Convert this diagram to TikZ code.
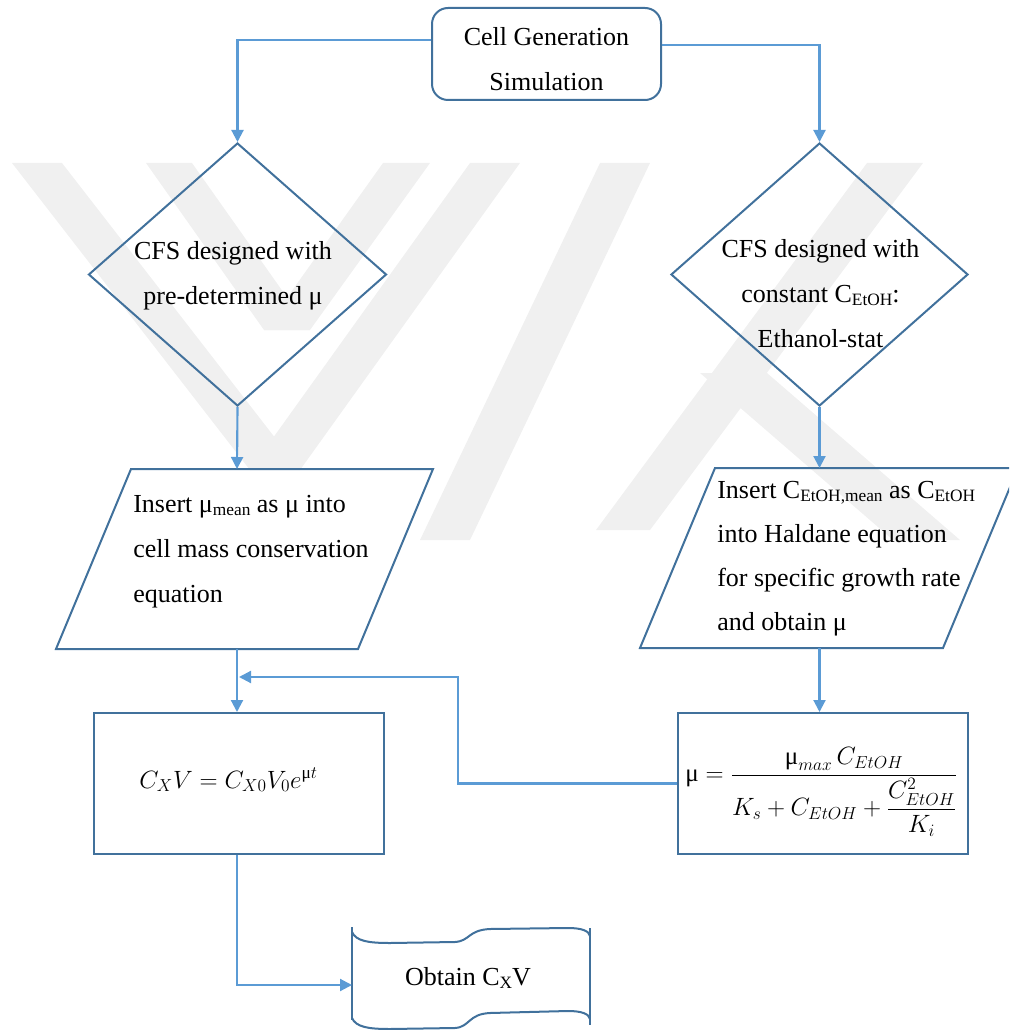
\documentclass[tikz,border=0pt]{standalone}
\usepackage{fontspec}
\setmainfont{Liberation Serif}
\usepackage{amsmath}
\usetikzlibrary{arrows.meta,shapes.geometric}
\definecolor{conncol}{HTML}{5B9BD5}
\definecolor{edgecol}{HTML}{41719C}
\definecolor{wmcol}{HTML}{F0F0F0}
\newcommand\lsub[1]{\raisebox{-0.25ex}{\fontsize{13}{13}\selectfont #1}}
\newcommand\umu{\text{μ}}
\begin{document}
\begin{tikzpicture}[x=0.75pt,y=-0.75pt,
  shapeline/.style={draw=edgecol,line width=1.5pt},
  conn/.style={draw=conncol,line width=1.6pt,-{Triangle[length=9pt,width=9pt]}},
  txt/.style={font=\fontsize{19.5}{33.75}\selectfont, inner sep=0pt},
  mathtxt/.style={font=\fontsize{20.74}{22}\selectfont, inner sep=0pt, scale=0.905},
  wm/.style={fill=wmcol,draw=none}]
\useasboundingbox (0,0) rectangle (1009,1030);
\clip (0,0) rectangle (1009,1030);
% watermark (faint background logo)
\fill[wm] (12,163) -- (62,163) -- (300,470) -- (250,470) -- cycle;
\fill[wm] (146,163) -- (192,163) -- (310,330) -- (264,330) -- cycle;
\fill[wm] (470,163) -- (520,163) -- (300,470) -- (250,470) -- cycle;
\fill[wm] (383,163) -- (430,163) -- (310,330) -- (264,330) -- cycle;
\fill[wm] (600,163) -- (650,163) -- (470,540) -- (420,540) -- cycle;
\fill[wm] (867,163) -- (923,163) -- (650,530) -- (596,530) -- cycle;
\fill[wm] (700,373) -- (767,373) -- (960,540) -- (893,540) -- cycle;
% shapes
\node[shapeline, rounded corners=12pt, minimum width=171.75pt, minimum height=69pt, inner sep=0pt] (start) at (546.5,54) {};
\node[txt, align=center] (starttxt) at (546.5,59) {Cell Generation\\Simulation};
\node[shapeline, diamond, minimum width=223.5pt, minimum height=197.25pt, inner sep=0pt] (d1) at (237.5,274.5) {};
\node[shapeline, diamond, minimum width=222.75pt, minimum height=197.25pt, inner sep=0pt] (d2) at (819.5,274.5) {};
\node[txt, align=center] (t1) at (233,275.5) {CFS designed with\\pre-determined μ};
\node[txt, align=center] (t2) at (820.5,293.7) {CFS designed with\\constant C\lsub{EtOH}:\\Ethanol-stat};
\draw[shapeline] (56,649) -- (131,469) -- (433,469) -- (358,649) -- cycle;
\draw[shapeline] (640,648) -- (715,468) -- (1018,468) -- (943,648) -- cycle;
\coordinate (p1n) at (237,469);
\coordinate (p1s) at (237,649);
\coordinate (p2n) at (819.5,468);
\coordinate (p2s) at (819.5,648);
\node[txt, align=left, anchor=west] (t3) at (133,552) {Insert μ\lsub{mean} as μ into\\cell mass conservation\\equation};
\node[txt, font=\fontsize{19.5}{33}\selectfont, align=left, anchor=west] (t4) at (717,559) {Insert C\lsub{EtOH,mean} as C\lsub{EtOH}\\into Haldane equation\\for specific growth rate\\and obtain μ};
\node[shapeline, minimum width=217.5pt, minimum height=105.75pt, inner sep=0pt] (b1) at (239,783.5) {};
\node[shapeline, minimum width=217.5pt, minimum height=105.75pt, inner sep=0pt] (b2) at (823,783.5) {};
\node[mathtxt] (f1) at (228.5,780) {$C_XV = C_{X0}V_0e^{\umu t}$};
\node[mathtxt] (f2) at (821.5,792) {$\umu = \dfrac{\umu_{max}\,C_{EtOH}}{K_s + C_{EtOH} + \dfrac{C_{EtOH}^2}{K_i}}$};
% output document shape
\draw[shapeline] (352,927) -- (352,1020);
\draw[shapeline] (590,928) -- (590,1025);
\draw[shapeline] (352,932) .. controls (356,941) and (368,943) .. (390,943) -- (455,942) .. controls (470,941) and (468,930) .. (490,929) -- (568,928) .. controls (582,928) and (589,931) .. (590,936);
\draw[shapeline] (352,1018) .. controls (356,1027) and (368,1029) .. (390,1029) -- (455,1028) .. controls (470,1027) and (468,1014) .. (490,1013) -- (568,1011) .. controls (582,1011) and (589,1014) .. (590,1019);
\coordinate (outw) at (352,985);
\node[txt] (out) at (468,978) {Obtain C\lsub{X}V};
% connectors
\coordinate (fbturn) at (458,677);
\coordinate (fb) at (239,677);
\draw[conn] ([yshift=10.5pt]start.west) -| (d1.north);
\draw[conn] ([yshift=6.75pt]start.east) -| (d2.north);
\draw[conn] (d1.south) -- (p1n);
\draw[conn] (d2.south) -- (p2n);
\draw[conn] (p1s) -- (b1.north -| p1s);
\draw[conn] (p2s) -- (b2.north -| p2s);
\draw[conn] (b2.west) -| (fbturn) -- (fb);
\draw[conn] (b1.south -| p1s) |- (outw);
\end{tikzpicture}
\end{document}
